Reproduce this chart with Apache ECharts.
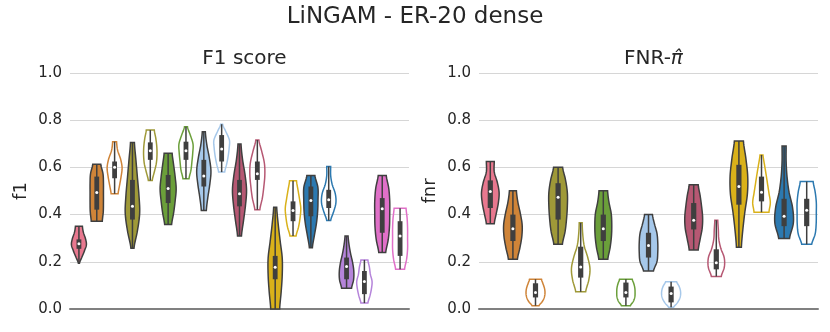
<!DOCTYPE html>
<html>
<head>
<meta charset="utf-8">
<script src="https://cdn.jsdelivr.net/npm/echarts/dist/echarts.min.js"></script>
<style>
  html, body { margin: 0; padding: 0; background: #fff; }
  #chart { width: 830px; height: 332px; }
</style>
</head>
<body>
<div id="chart"></div>
<script>
// F1 score panel: 19 violins (hue index, filled or outline only)
const f1Hue = [0, 1, 1, 2, 2, 3, 3, 4, 4, 5, 5, 6, 6, 7, 7, 8, 8, 9, 9];
const f1Filled = [1, 1, 0, 1, 0, 1, 0, 1, 0, 1, 0, 1, 0, 1, 0, 1, 0, 1, 0];
const f1Lo = [0.194, 0.372, 0.488, 0.257, 0.545, 0.358, 0.552, 0.417, 0.58, 0.309, 0.421, 0.0, 0.309, 0.26, 0.375, 0.088, 0.025, 0.239, 0.168];
const f1Hi = [0.351, 0.613, 0.709, 0.706, 0.758, 0.66, 0.772, 0.751, 0.783, 0.699, 0.716, 0.431, 0.543, 0.566, 0.604, 0.309, 0.208, 0.566, 0.427];
const f1Q1 = [0.255, 0.421, 0.554, 0.379, 0.632, 0.449, 0.632, 0.519, 0.625, 0.435, 0.547, 0.126, 0.372, 0.393, 0.428, 0.126, 0.063, 0.323, 0.225];
const f1Med = [0.276, 0.494, 0.601, 0.435, 0.671, 0.511, 0.671, 0.564, 0.678, 0.488, 0.573, 0.177, 0.417, 0.46, 0.463, 0.18, 0.116, 0.425, 0.309];
const f1Q3 = [0.295, 0.561, 0.625, 0.547, 0.706, 0.568, 0.709, 0.632, 0.737, 0.547, 0.625, 0.225, 0.456, 0.519, 0.505, 0.218, 0.161, 0.47, 0.372];
// density profile, bottom -> top, as share of the slot width
const f1Dens = [
  [0.06, 0.34, 0.62, 0.84, 0.73, 0.5, 0.39],
  [0.62, 0.73, 0.75, 0.75, 0.75, 0.7, 0.45],
  [0.39, 0.56, 0.73, 0.84, 0.67, 0.34, 0.22],
  [0.17, 0.56, 0.81, 0.73, 0.56, 0.39, 0.22],
  [0.22, 0.45, 0.67, 0.75, 0.73, 0.62, 0.45],
  [0.39, 0.62, 0.79, 0.9, 0.79, 0.62, 0.45],
  [0.34, 0.56, 0.67, 0.76, 0.79, 0.5, 0.17],
  [0.28, 0.45, 0.67, 0.8, 0.62, 0.34, 0.17],
  [0.34, 0.56, 0.73, 0.84, 0.87, 0.5, 0.11],
  [0.22, 0.45, 0.67, 0.79, 0.62, 0.34, 0.17],
  [0.28, 0.56, 0.73, 0.84, 0.79, 0.5, 0.17],
  [0.5, 0.67, 0.79, 0.79, 0.56, 0.34, 0.17],
  [0.34, 0.62, 0.79, 0.87, 0.73, 0.56, 0.39],
  [0.17, 0.39, 0.62, 0.76, 0.8, 0.79, 0.45],
  [0.22, 0.56, 0.81, 0.73, 0.39, 0.22, 0.22],
  [0.56, 0.79, 0.81, 0.67, 0.45, 0.28, 0.17],
  [0.39, 0.62, 0.79, 0.86, 0.67, 0.56, 0.39],
  [0.39, 0.67, 0.81, 0.84, 0.84, 0.73, 0.45],
  [0.5, 0.73, 0.84, 0.84, 0.84, 0.79, 0.67]
];

// FNR panel: 15 violins
const fnrHue = [0, 1, 1, 2, 2, 3, 3, 4, 4, 5, 5, 6, 6, 7, 7];
const fnrFilled = [1, 1, 0, 1, 0, 1, 0, 1, 0, 1, 0, 1, 0, 1, 0];
const fnrLo = [0.361, 0.211, 0.014, 0.274, 0.073, 0.211, 0.014, 0.161, 0.007, 0.25, 0.138, 0.262, 0.41, 0.299, 0.274];
const fnrHi = [0.625, 0.501, 0.126, 0.601, 0.365, 0.501, 0.126, 0.4, 0.115, 0.526, 0.376, 0.712, 0.653, 0.691, 0.54];
const fnrQ1 = [0.428, 0.288, 0.049, 0.379, 0.133, 0.288, 0.049, 0.218, 0.028, 0.337, 0.168, 0.442, 0.456, 0.351, 0.351];
const fnrMed = [0.498, 0.34, 0.07, 0.474, 0.178, 0.34, 0.07, 0.269, 0.066, 0.376, 0.196, 0.519, 0.495, 0.393, 0.418];
const fnrQ3 = [0.545, 0.4, 0.109, 0.533, 0.264, 0.4, 0.112, 0.323, 0.095, 0.449, 0.253, 0.611, 0.561, 0.467, 0.467];
const fnrDens = [
  [0.35, 0.53, 0.71, 0.78, 0.62, 0.35, 0.35],
  [0.4, 0.62, 0.79, 0.82, 0.66, 0.44, 0.31],
  [0.31, 0.62, 0.79, 0.84, 0.79, 0.66, 0.53],
  [0.38, 0.62, 0.75, 0.82, 0.82, 0.66, 0.4],
  [0.44, 0.71, 0.82, 0.62, 0.31, 0.18, 0.13],
  [0.4, 0.6, 0.72, 0.75, 0.7, 0.5, 0.38],
  [0.4, 0.66, 0.79, 0.81, 0.79, 0.7, 0.56],
  [0.44, 0.75, 0.82, 0.82, 0.75, 0.53, 0.35],
  [0.22, 0.53, 0.75, 0.84, 0.82, 0.7, 0.49],
  [0.4, 0.57, 0.75, 0.79, 0.7, 0.57, 0.4],
  [0.44, 0.71, 0.7, 0.4, 0.22, 0.18, 0.13],
  [0.22, 0.35, 0.53, 0.75, 0.78, 0.62, 0.4],
  [0.66, 0.78, 0.66, 0.53, 0.4, 0.26, 0.13],
  [0.48, 0.82, 0.75, 0.44, 0.26, 0.18, 0.18],
  [0.44, 0.75, 0.84, 0.85, 0.85, 0.75, 0.57]
];

const yTicks = [0, 0.2, 0.4, 0.6, 0.8, 1.0];

const palette = ['#e8788f', '#cf8438', '#9f9938', '#6b9f3a', '#a6c8ea', '#b65873', '#d9b11a', '#2c79b0', '#b584da', '#e070c8'];
const dark = '#3f3f3f';
const font = 'DejaVu Sans';

// catmull-rom through the profile points
function interp(p, t) {
  const m = p.length - 1;
  const x = t * m;
  const j = Math.min(Math.floor(x), m - 1);
  const u = x - j;
  const p0 = p[Math.max(j - 1, 0)], p1 = p[j], p2 = p[j + 1], p3 = p[Math.min(j + 2, m)];
  const v = 0.5 * (2 * p1 + (-p0 + p2) * u + (2 * p0 - 5 * p1 + 4 * p2 - p3) * u * u + (-p0 + 3 * p1 - 3 * p2 + p3) * u * u * u);
  return Math.max(v, 0.02);
}

function violins(lo, hi, q1, med, q3, dens, hue, filled) {
  return function (params, api) {
    const i = api.value(0);
    const band = api.size([1, 0])[0];
    const cx = api.coord([i, 0])[0];
    const color = palette[hue[i]];
    const n = 48;
    const left = [], right = [];
    for (let k = 0; k <= n; k++) {
      const t = k / n;
      const y = api.coord([i, lo[i] + (hi[i] - lo[i]) * t])[1];
      const hw = interp(dens[i], t) * band / 2;
      left.push([cx - hw, y]);
      right.push([cx + hw, y]);
    }
    const pts = left.concat(right.reverse());
    const yLo = api.coord([i, lo[i]])[1];
    const yHi = api.coord([i, hi[i]])[1];
    const yQ1 = api.coord([i, q1[i]])[1];
    const yQ3 = api.coord([i, q3[i]])[1];
    const yMed = api.coord([i, med[i]])[1];
    const bw = Math.min(band * 0.27, 5.2);
    return {
      type: 'group',
      children: [
        {
          type: 'polygon',
          shape: { points: pts },
          style: filled[i]
            ? { fill: color, stroke: dark, lineWidth: 1.5 }
            : { fill: 'none', stroke: color, lineWidth: 1.5 }
        },
        { type: 'line', shape: { x1: cx, y1: yLo, x2: cx, y2: yHi }, style: { stroke: dark, lineWidth: 1.5 } },
        { type: 'rect', shape: { x: cx - bw / 2, y: yQ3, width: bw, height: yQ1 - yQ3 }, style: { fill: dark } },
        { type: 'circle', shape: { cx: cx, cy: yMed, r: 1.5 }, style: { fill: '#fff' } }
      ]
    };
  };
}

const chart = echarts.init(document.getElementById('chart'), null, { renderer: 'canvas' });

function yAxisFor(grid, name) {
  return {
    type: 'value', gridIndex: grid, min: 0, max: 1, interval: 0.2,
    name: name, nameLocation: 'middle', nameGap: 40, nameRotate: 90,
    nameTextStyle: { fontSize: 18, color: '#262626', fontFamily: font },
    axisLine: { show: false }, axisTick: { show: false },
    axisLabel: { fontSize: 15, color: '#262626', fontFamily: font, margin: 8, formatter: v => v.toFixed(1) },
    splitLine: { lineStyle: { color: '#d6d6d6', width: 1 } }
  };
}

function xAxisFor(grid, count) {
  return {
    type: 'category', gridIndex: grid, data: Array.from({ length: count }, (_, i) => String(i)),
    axisLine: { lineStyle: { color: '#808080', width: 2 } },
    axisTick: { show: false }, axisLabel: { show: false }, splitLine: { show: false }
  };
}

chart.setOption({
  animation: false,
  backgroundColor: '#fff',
  title: [
    { text: 'LiNGAM - ER-20 dense', left: 'center', top: 1, textStyle: { fontSize: 23, fontWeight: 'normal', color: '#262626', fontFamily: font } },
    { text: 'F1 score', left: 239.5, textAlign: 'center', top: 44, textStyle: { fontSize: 20, fontWeight: 'normal', color: '#262626', fontFamily: font } },
    {
      text: 'FNR-{i|π\u0302}', left: 648.5, textAlign: 'center', top: 44,
      textStyle: {
        fontSize: 20, fontWeight: 'normal', color: '#262626', fontFamily: font,
        rich: { i: { fontSize: 20, fontStyle: 'italic', color: '#262626', fontFamily: font } }
      }
    }
  ],
  grid: [
    { left: 70, right: 421, top: 73, bottom: 23 },
    { left: 479, right: 12, top: 73, bottom: 23 }
  ],
  xAxis: [xAxisFor(0, f1Lo.length), xAxisFor(1, fnrLo.length)],
  yAxis: [yAxisFor(0, 'f1'), yAxisFor(1, 'fnr')],
  series: [
    {
      type: 'custom', xAxisIndex: 0, yAxisIndex: 0,
      renderItem: violins(f1Lo, f1Hi, f1Q1, f1Med, f1Q3, f1Dens, f1Hue, f1Filled),
      data: f1Lo.map((v, i) => [i, f1Hi[i]]),
      encode: { x: 0, y: 1 }
    },
    {
      type: 'custom', xAxisIndex: 1, yAxisIndex: 1,
      renderItem: violins(fnrLo, fnrHi, fnrQ1, fnrMed, fnrQ3, fnrDens, fnrHue, fnrFilled),
      data: fnrLo.map((v, i) => [i, fnrHi[i]]),
      encode: { x: 0, y: 1 }
    }
  ]
});
</script>
</body>
</html>
